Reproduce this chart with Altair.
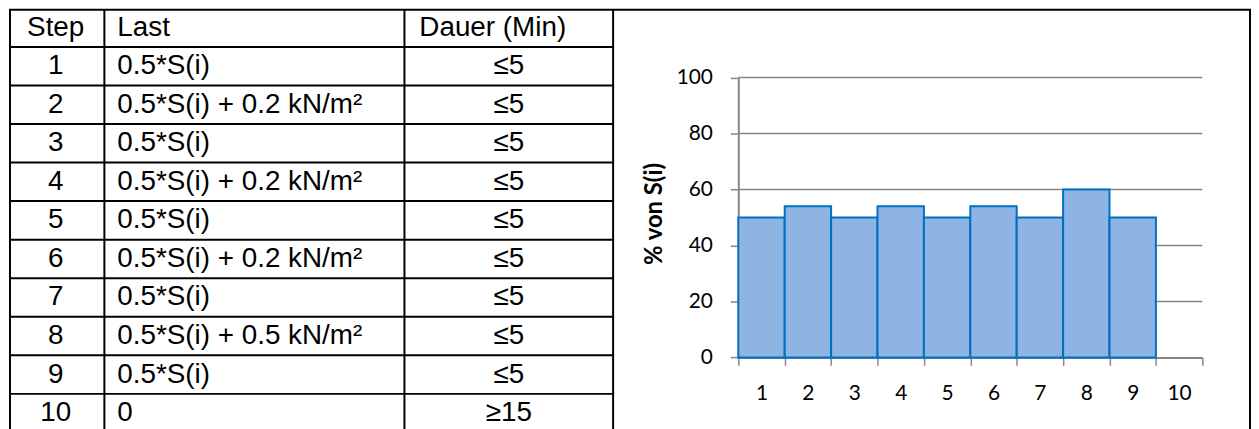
import altair as alt
import pandas as pd

# ---------------- data ----------------
header = ["Step", "Last", "Dauer (Min)"]
steps = ["1", "2", "3", "4", "5", "6", "7", "8", "9", "10"]
last = ["0.5*S(i)", "0.5*S(i) + 0.2 kN/m²", "0.5*S(i)", "0.5*S(i) + 0.2 kN/m²",
        "0.5*S(i)", "0.5*S(i) + 0.2 kN/m²", "0.5*S(i)", "0.5*S(i) + 0.5 kN/m²",
        "0.5*S(i)", "0"]
dauer = ["≤5", "≤5", "≤5", "≤5", "≤5", "≤5", "≤5", "≤5", "≤5", "≥15"]

bar_steps = ["1", "2", "3", "4", "5", "6", "7", "8", "9"]
bar_values = [50, 54, 50, 54, 50, 54, 50, 60, 50]
y_ticks = [0, 20, 40, 60, 80, 100]
y_title = "% von S(i)"

# ---------------- layout (pixels) ----------------
W, H = 1251, 421
ROW_TOP, ROW_H = -1, 38.8
X_LEFT, X_DIV1, X_DIV2, X_TAB_R, X_BOX_R = 2, 97, 399, 609, 1250
PLOT_X0, PLOT_X1 = 735, 1202
PLOT_Y0, PLOT_Y100 = 350.3, 68.7
TABLE_FONT = "Liberation Sans"
TABLE_SIZE = 28
CHART_FONT = "Lato"

table_df = pd.DataFrame({
    "row": list(range(11)),
    "step": [header[0]] + steps,
    "last": [header[1]] + last,
    "dauer": [header[2]] + dauer,
})

row_scale = alt.Scale(type="band", domain=list(range(11)),
                      range=[ROW_TOP, ROW_TOP + 11 * ROW_H],
                      paddingInner=0, paddingOuter=0)

base_t = alt.Chart(table_df)

def ytext():
    return alt.Y("row:O", scale=row_scale, axis=None, bandPosition=0.5)

t_step = base_t.mark_text(font=TABLE_FONT, fontSize=TABLE_SIZE, align="center",
                          baseline="middle", color="black").encode(
    x=alt.value(48), y=ytext(), text="step:N")
t_last = base_t.mark_text(font=TABLE_FONT, fontSize=TABLE_SIZE, align="left",
                          baseline="middle", color="black").encode(
    x=alt.value(110), y=ytext(), text="last:N")
t_dauer_h = base_t.transform_filter("datum.row == 0").mark_text(
    font=TABLE_FONT, fontSize=TABLE_SIZE, align="left", baseline="middle",
    color="black").encode(x=alt.value(414), y=ytext(), text="dauer:N")
t_dauer = base_t.transform_filter("datum.row > 0").mark_text(
    font=TABLE_FONT, fontSize=TABLE_SIZE, align="center", baseline="middle",
    color="black").encode(x=alt.value(504), y=ytext(), text="dauer:N")

h_rules = base_t.transform_filter("datum.row > 0").mark_rule(
    color="black", strokeWidth=2).encode(
    y=alt.Y("row:O", scale=row_scale, axis=None, bandPosition=0),
    x=alt.value(X_LEFT), x2=alt.value(X_TAB_R))

frame_df = pd.DataFrame({"k": [0]})
frame = alt.Chart(frame_df).mark_rect(fill=None, stroke="black", strokeWidth=2).encode(
    x=alt.value(X_LEFT), x2=alt.value(X_BOX_R), y=alt.value(0.5), y2=alt.value(H + 20))
vdiv_df = pd.DataFrame({"k": [0]})
v1 = alt.Chart(vdiv_df).mark_rule(color="black", strokeWidth=2).encode(
    x=alt.value(X_DIV1), y=alt.value(0), y2=alt.value(H + 20))
v2 = alt.Chart(vdiv_df).mark_rule(color="black", strokeWidth=2).encode(
    x=alt.value(X_DIV2), y=alt.value(0), y2=alt.value(H + 20))
v3 = alt.Chart(vdiv_df).mark_rule(color="black", strokeWidth=2).encode(
    x=alt.value(X_TAB_R), y=alt.value(0), y2=alt.value(H + 20))

table = alt.layer(h_rules, frame, v1, v2, v3, t_step, t_last, t_dauer_h, t_dauer)

# ---------------- bar chart ----------------
bar_df = pd.DataFrame({"step": bar_steps, "value": bar_values})
grid_df = pd.DataFrame({"v": y_ticks[1:]})

x_enc = alt.X("step:O", title=None,
              scale=alt.Scale(type="band", domain=steps, range=[PLOT_X0, PLOT_X1],
                              paddingInner=0, paddingOuter=0),
              axis=alt.Axis(orient="bottom", offset=PLOT_Y0 - H, labelAngle=0,
                            tickBand="extent", tickSize=8, tickWidth=1.5,
                            tickColor="#868686", domainColor="#868686", domainWidth=2,
                            labelFont=CHART_FONT, labelFontSize=21, labelColor="black",
                            labelPadding=17, grid=False))
y_scale = alt.Scale(domain=[0, 100], range=[PLOT_Y0, PLOT_Y100], nice=False, zero=True)

grid = alt.Chart(grid_df).mark_rule(color="#868686", strokeWidth=1.5).encode(
    y=alt.Y("v:Q", scale=y_scale,
            axis=alt.Axis(orient="left", offset=-PLOT_X0, values=y_ticks,
                          title=y_title, titleFont=CHART_FONT, titleFontSize=24,
                          titleFontWeight="bold", titleColor="black",
                          titleAngle=-90, titleX=-84, titleY=(PLOT_Y0 + PLOT_Y100) / 2 - 4,
                          titleAlign="center", titleBaseline="middle",
                          tickSize=8, tickWidth=1.5, tickColor="#868686",
                          domainColor="#868686", domainWidth=2,
                          labelFont=CHART_FONT, labelFontSize=21, labelColor="black",
                          labelPadding=18, grid=False)),
    x=alt.value(PLOT_X0), x2=alt.value(PLOT_X1))

bars = alt.Chart(bar_df).mark_bar(fill="#8EB4E3", stroke="#0070C0",
                                  strokeWidth=2).encode(
    x=x_enc,
    y=alt.Y("value:Q", scale=y_scale))

barchart = alt.layer(grid, bars)

chart = alt.layer(table, barchart).resolve_scale(
    x="independent", y="independent").properties(
    width=W, height=H, autosize=alt.AutoSizeParams(type="none"), padding=0
).configure_view(stroke=None)

chart.save("out.html", embed_options={"renderer": "svg", "actions": False})
